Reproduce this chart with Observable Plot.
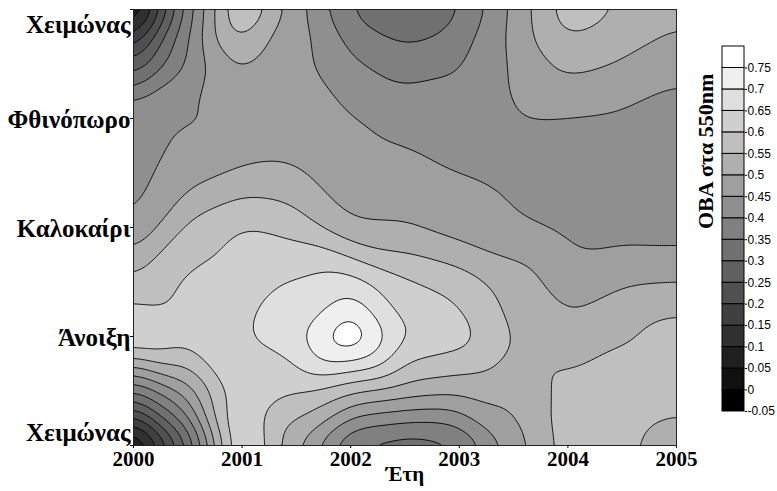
<!DOCTYPE html>
<html>
<head>
<meta charset="utf-8">
<script src="https://cdn.jsdelivr.net/npm/d3@7"></script>
<script src="https://cdn.jsdelivr.net/npm/@observablehq/plot@0.6"></script>
<style>
  html, body { margin: 0; padding: 0; background: #fff; }
  #wrap { position: relative; width: 777px; height: 491px; overflow: hidden; }
  #wrap > svg, #wrap > figure { position: absolute; top: 0; margin: 0; }
</style>
</head>
<body>
<div id="wrap"></div>
<script>
// Grid positions (years on x, seasons on y: 0 = winter, 1 = spring, 2 = summer, 3 = autumn, 4 = winter)
const years = [2000, 2000.5, 2001, 2001.5, 2002, 2002.5, 2003, 2003.5, 2004, 2004.5, 2005];
const yearTicks = [2000, 2001, 2002, 2003, 2004, 2005];
const seasonTicks = [0, 1, 2, 3, 4];
const seasonLabels = ["Χειμώνας", "Άνοιξη", "Καλοκαίρι", "Φθινόπωρο", "Χειμώνας"];

// AOD at 550nm, one row per season position
const aodWinterStart = [-0.02, 0.28, 0.68, 0.50, 0.33, 0.305, 0.33, 0.47, 0.575, 0.56, 0.52];   // s = 0
const aodWinterLate  = [0.34, 0.47, 0.645, 0.605, 0.555, 0.53, 0.515, 0.51, 0.565, 0.585, 0.575];  // s = 0.5
const aodSpring      = [0.67, 0.625, 0.645, 0.69, 0.82, 0.655, 0.63, 0.545, 0.52, 0.545, 0.58]; // s = 1
const aodSpringLate  = [0.56, 0.61, 0.63, 0.655, 0.68, 0.61, 0.58, 0.53, 0.47, 0.495, 0.50];  // s = 1.5
const aodSummer      = [0.448, 0.565, 0.605, 0.58, 0.502, 0.502, 0.475, 0.455, 0.44, 0.43, 0.425]; // s = 2
const aodSummerLate  = [0.435, 0.475, 0.51, 0.505, 0.47, 0.465, 0.448, 0.44, 0.425, 0.425, 0.425]; // s = 2.5
const aodAutumn      = [0.452, 0.448, 0.44, 0.47, 0.455, 0.435, 0.42, 0.445, 0.445, 0.44, 0.435]; // s = 3
const aodAutumnLate  = [0.25, 0.405, 0.51, 0.465, 0.41, 0.375, 0.395, 0.455, 0.515, 0.495, 0.46];  // s = 3.5
const aodWinterEnd   = [-0.005, 0.37, 0.625, 0.47, 0.34, 0.30, 0.34, 0.46, 0.585, 0.548, 0.52]; // s = 4

const rows = [
  [0, aodWinterStart], [0.5, aodWinterLate], [1, aodSpring], [1.5, aodSpringLate],
  [2, aodSummer], [2.5, aodSummerLate], [3, aodAutumn], [3.5, aodAutumnLate], [4, aodWinterEnd]
];

// Contour levels and legend
const thresholds = [-0.05, 0, 0.05, 0.1, 0.15, 0.2, 0.25, 0.3, 0.35, 0.4, 0.45, 0.5, 0.55, 0.6, 0.65, 0.7, 0.75];
const greys = ["#000000","#101010","#202020","#303030","#404040","#505050","#606060","#707070","#808080",
               "#8f8f8f","#9f9f9f","#afafaf","#bfbfbf","#cfcfcf","#dfdfdf","#efefef","#ffffff"];
const legendTop = 0.80;

const points = [];
for (const [s, vals] of rows) vals.forEach((v, i) => points.push({year: years[i], s, v}));

const serif = "'Liberation Serif', 'Times New Roman', serif";

const main = Plot.plot({
  width: 777,
  height: 491,
  marginLeft: 133,
  marginRight: 101,
  marginTop: 9,
  marginBottom: 46,
  x: {domain: [2000, 2005]},
  y: {domain: [0, 4]},
  color: {type: "threshold", domain: thresholds.slice(1), range: greys},
  style: {fontFamily: serif, background: "white"},
  marks: [
    Plot.contour(points, {
      x: "year", y: "s", fill: "v",
      interpolate: "barycentric",
      blur: 6,
      thresholds,
      stroke: "black",
      strokeWidth: 0.9
    }),
    Plot.frame({stroke: "#222", strokeWidth: 1}),
    Plot.axisX({
      ticks: yearTicks, tickSize: 3, tickPadding: 3,
      tickFormat: d => String(d),
      fontFamily: serif, fontSize: 21, fontWeight: "bold", label: null
    }),
    Plot.axisY({ticks: seasonTicks, tickSize: 3, tickFormat: () => "", label: null}),
    Plot.text(seasonTicks.slice(1, 4), {
      y: d => d, text: d => seasonLabels[d], frameAnchor: "left", textAnchor: "end",
      dx: -3, dy: 1, fontFamily: serif, fontSize: 25, fontWeight: "bold", fill: "black"
    }),
    Plot.text([4], {
      y: d => d, text: d => seasonLabels[d], frameAnchor: "left", textAnchor: "end",
      dx: -3, dy: 15, fontFamily: serif, fontSize: 25, fontWeight: "bold", fill: "black"
    }),
    Plot.text([0], {
      y: d => d, text: d => seasonLabels[d], frameAnchor: "left", textAnchor: "end",
      dx: -3, dy: -13, fontFamily: serif, fontSize: 25, fontWeight: "bold", fill: "black"
    }),
    Plot.text(["Έτη"], {
      frameAnchor: "bottom", dy: 35, fontFamily: serif, fontSize: 21, fontWeight: "bold", fill: "black"
    })
  ]
});

const bands = thresholds.map((t, i) => ({lo: t, hi: i < thresholds.length - 1 ? thresholds[i + 1] : legendTop, color: greys[i]}));

const legend = Plot.plot({
  width: 97,
  height: 491,
  marginLeft: 42,
  marginRight: 33,
  marginTop: 46,
  marginBottom: 80,
  x: {domain: [0, 1], axis: null},
  y: {domain: [thresholds[0], legendTop], axis: null},
  color: {type: "identity"},
  style: {background: "transparent"},
  marks: [
    Plot.rect(bands, {x1: () => 0, x2: () => 1, y1: "lo", y2: "hi", fill: "color", stroke: "black", strokeWidth: 1}),
    Plot.axisY({
      ticks: thresholds, anchor: "right", tickSize: 2, tickPadding: 1,
      tickFormat: d => String(d), fontFamily: "'Liberation Sans', Arial, sans-serif", fontSize: 12,
      label: null
    }),
    Plot.text(["ΟΒΑ στα 550nm"], {
      frameAnchor: "left", rotate: -90, dx: -17,
      fontFamily: serif, fontSize: 22, fontWeight: "bold", fill: "black"
    })
  ]
});

const wrap = document.getElementById("wrap");
main.style.left = "0px";
legend.style.left = "680px";
wrap.appendChild(main);
wrap.appendChild(legend);
</script>
</body>
</html>
